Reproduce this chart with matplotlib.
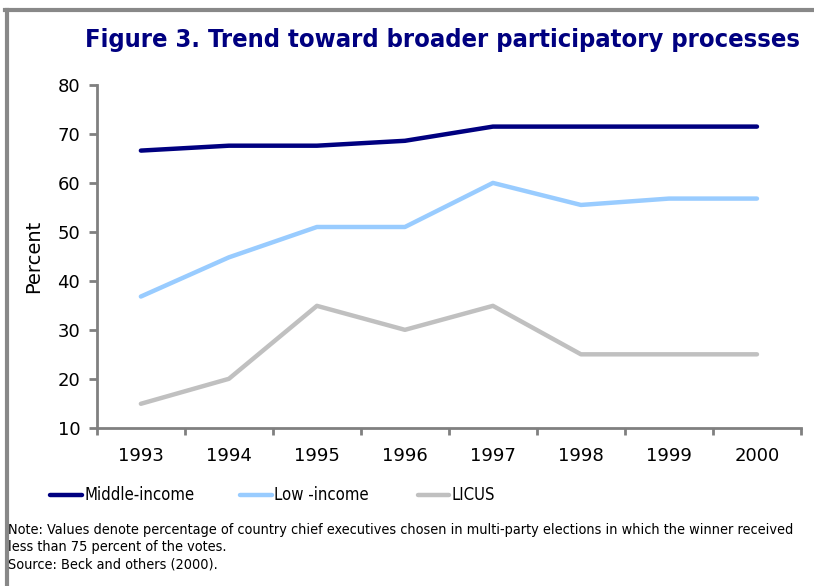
import matplotlib.pyplot as plt
from matplotlib.lines import Line2D

# 数据
years = ["1993", "1994", "1995", "1996", "1997", "1998", "1999", "2000"]
middle_income = [66.6, 67.6, 67.6, 68.6, 71.5, 71.5, 71.5, 71.5]
low_income = [36.8, 44.8, 51.0, 51.0, 60.0, 55.5, 56.8, 56.8]
licus = [14.9, 20.0, 34.9, 30.0, 34.9, 25.0, 25.0, 25.0]

series_names = ["Middle-income", "Low -income", "LICUS"]
colors = ["#000080", "#99ccff", "#c0c0c0"]

fig = plt.figure(figsize=(8.14, 5.86), dpi=100)
ax = fig.add_axes([0.119, 0.270, 0.865, 0.585])

# 画三条折线，数据点放在类别中间
x = [i + 0.5 for i in range(len(years))]
for vals, c in zip([middle_income, low_income, licus], colors):
    ax.plot(x, vals, color=c, lw=3.2, solid_capstyle="round", solid_joinstyle="round")

ax.set_xlim(0, len(years))
ax.set_ylim(10, 80)
ax.set_yticks(range(10, 81, 10))
ax.set_xticks(range(len(years) + 1))
ax.set_xticklabels([])
ax.set_xticks(x, minor=True)
ax.set_xticklabels(years, minor=True)
ax.tick_params(axis="x", which="minor", length=0, pad=14, labelsize=13)
ax.tick_params(axis="x", which="major", length=5, width=2, color="#808080")
ax.tick_params(axis="y", length=6, width=2, color="#808080", labelsize=13, pad=6)

for side in ["top", "right"]:
    ax.spines[side].set_visible(False)
for side in ["left", "bottom"]:
    ax.spines[side].set_color("#808080")
    ax.spines[side].set_linewidth(2)

ax.set_ylabel("Percent", fontsize=14, labelpad=10)

# 标题
fig.text(0.543, 0.932, "Figure 3. Trend toward broader participatory processes",
         ha="center", va="center", fontsize=18.3, fontweight="bold", color="#000080",
         fontstretch="condensed")

# 图例（手动画在图下方）
leg_x = [0.062, 0.295, 0.513]
for lx, name, c in zip(leg_x, series_names, colors):
    fig.add_artist(Line2D([lx, lx + 0.039], [0.155, 0.155], color=c, lw=3.2,
                          solid_capstyle="round", transform=fig.transFigure))
    fig.text(lx + 0.042, 0.155, name, ha="left", va="center", fontsize=12,
             fontstretch="condensed")

# 注释
note = ("Note: Values denote percentage of country chief executives chosen in multi-party elections in which the winner received\n"
        "less than 75 percent of the votes.\n"
        "Source: Beck and others (2000).")
fig.text(0.010, 0.108, note, ha="left", va="top", fontsize=10.4, linespacing=1.3,
         fontstretch="condensed")

# 边框
fig.add_artist(Line2D([0.006, 1.0], [0.983, 0.983], color="#888888", lw=3, transform=fig.transFigure))
fig.add_artist(Line2D([0.009, 0.009], [0.0, 0.983], color="#888888", lw=3, transform=fig.transFigure))

fig.savefig("out.png", dpi=100)
